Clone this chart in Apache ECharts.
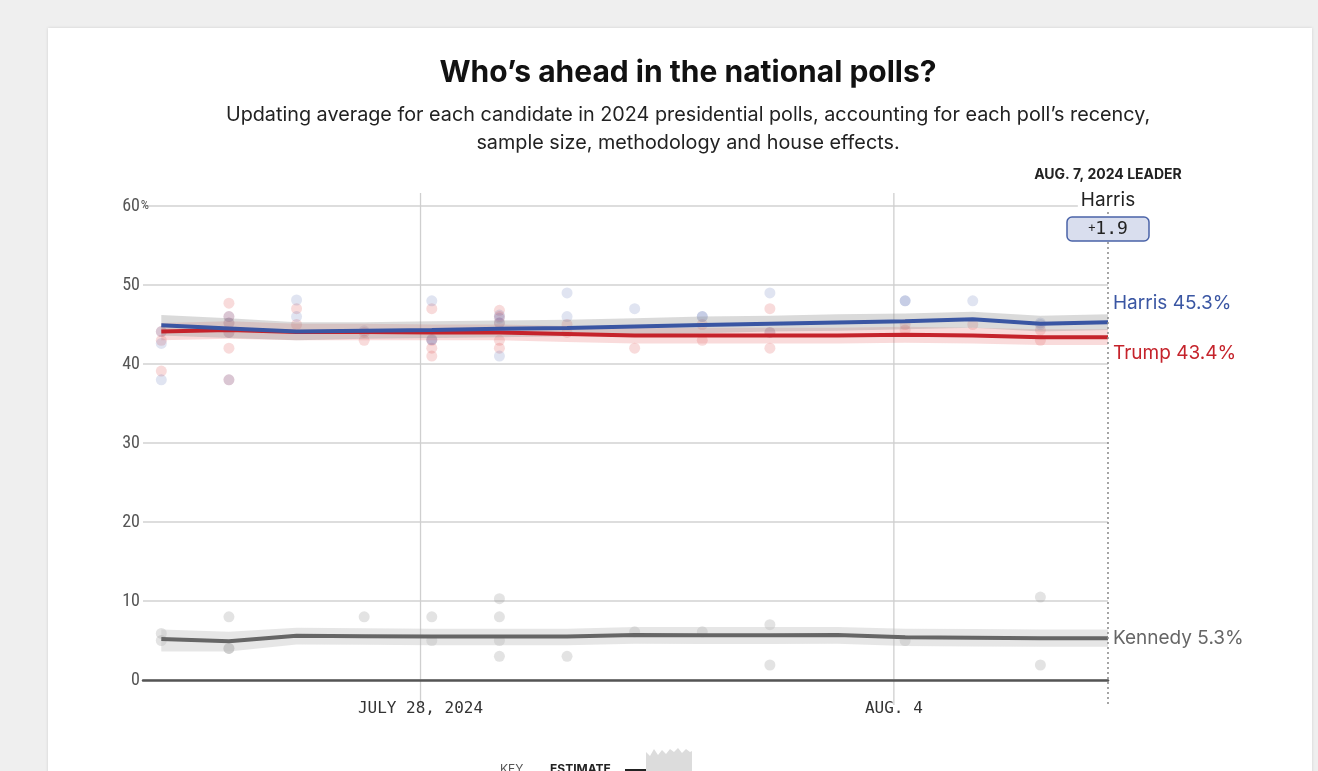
<!DOCTYPE html>
<html><head><meta charset="utf-8">
<script src="https://cdn.jsdelivr.net/npm/echarts@6/dist/echarts.min.js"></script>
<style>
html,body{margin:0;padding:0;background:#efefef;width:1318px;height:771px;overflow:hidden}
#card{position:absolute;left:48px;top:28px;width:1264px;height:760px;background:#fff;box-shadow:0 0 3px rgba(0,0,0,0.13)}
#chart{position:absolute;left:0;top:0;width:1318px;height:771px}
</style></head><body>
<div id="card"></div><div id="chart"></div>
<script>
// ---- data ----
const estDates = ['07-24','07-25','07-26','07-27','07-28','07-29','07-30','07-31','08-01','08-02','08-03','08-04','08-05','08-06','08-07'];
const harrisEst = [44.9,44.5,44.1,44.2,44.3,44.45,44.55,44.75,44.95,45.1,45.25,45.4,45.65,45.1,45.3];
const harrisHi  = [46.2,45.8,45.3,45.3,45.4,45.5,45.6,45.8,46.0,46.1,46.3,46.4,46.6,46.1,46.3];
const harrisLo  = [43.6,43.3,43.0,43.2,43.3,43.4,43.5,43.7,43.9,44.1,44.2,44.4,44.6,44.1,44.3];
const trumpEst  = [44.1,44.3,44.05,44.05,44.0,44.0,43.8,43.6,43.6,43.6,43.6,43.7,43.6,43.4,43.4];
const trumpHi   = [45.2,45.4,45.1,45.1,45.0,45.0,44.8,44.6,44.6,44.6,44.6,44.7,44.6,44.4,44.4];
const trumpLo   = [43.0,43.2,43.0,43.0,43.0,43.0,42.8,42.6,42.6,42.6,42.6,42.7,42.6,42.4,42.4];
const kennedyEst= [5.2,4.9,5.6,5.55,5.5,5.5,5.5,5.7,5.65,5.65,5.7,5.4,5.35,5.3,5.3];
const kennedyHi = [6.4,6.1,6.6,6.55,6.5,6.5,6.5,6.7,6.7,6.7,6.7,6.5,6.45,6.4,6.4];
const kennedyLo = [3.6,3.6,4.5,4.45,4.4,4.4,4.4,4.6,4.55,4.55,4.6,4.3,4.25,4.2,4.2];

const harrisPolls = [['07-24',44.1],['07-24',42.6],['07-24',38.0],
  ['07-25',46.0],['07-25',45.2],['07-25',44.0],['07-25',38.0],
  ['07-26',48.1],['07-26',46.0],['07-27',44.2],
  ['07-28',48.0],['07-28',43.1],['07-28',43.1],
  ['07-29',46.2],['07-29',45.8],['07-29',45.2],['07-29',41.0],
  ['07-30',49.0],['07-30',46.0],['07-31',47.0],
  ['08-01',46.0],['08-01',46.0],['08-02',49.0],['08-02',44.0],
  ['08-04',48.0],['08-04',48.0],['08-05',48.0],['08-06',45.2],['08-06',45.0]];
const trumpPolls = [['07-24',44.1],['07-24',43.0],['07-24',39.1],
  ['07-25',47.7],['07-25',46.0],['07-25',45.2],['07-25',44.0],['07-25',42.0],['07-25',38.0],
  ['07-26',47.0],['07-26',45.0],['07-27',44.0],['07-27',43.0],
  ['07-28',47.0],['07-28',43.0],['07-28',42.0],['07-28',41.0],
  ['07-29',46.8],['07-29',46.0],['07-29',45.2],['07-29',43.0],['07-29',42.0],
  ['07-30',45.0],['07-30',44.0],['07-31',42.0],
  ['08-01',45.0],['08-01',43.0],['08-02',47.0],['08-02',44.0],['08-02',42.0],
  ['08-04',45.0],['08-04',44.3],['08-05',45.0],['08-06',44.3],['08-06',43.0]];
const kennedyPolls = [['07-24',5.9],['07-24',5.0],['07-25',8.0],['07-25',4.0],['07-25',4.0],
  ['07-27',8.0],['07-28',8.0],['07-28',5.0],
  ['07-29',10.3],['07-29',8.0],['07-29',5.0],['07-29',3.0],['07-30',3.0],
  ['07-31',6.1],['08-01',6.1],['08-02',7.0],['08-02',1.9],['08-04',5.0],['08-06',10.5],['08-06',1.9]];

const yTicks = [0,10,20,30,40,50,60];
const refDates = ['07-28','08-04'];
const refLabels = ['JULY 28, 2024','AUG. 4'];
const leaderDateLabel = 'AUG. 7, 2024 LEADER';

// ---- helpers ----
const t = d => new Date('2024-' + d + 'T04:00').getTime();
const day = d => new Date('2024-' + d + 'T00:00').getTime();
const pts = arr => arr.map(p => [t(p[0]), p[1]]);
const line = arr => arr.map((v, i) => [t(estDates[i]), v]);
const diff = (hi, lo) => hi.map((v, i) => [t(estDates[i]), +(v - lo[i]).toFixed(2)]);

const SANS = 'Inter, "Noto Sans", sans-serif';
const MONO = '"DejaVu Sans Mono", monospace';
const COND = '"Roboto Condensed","DejaVu Sans Condensed","Liberation Sans Narrow",Roboto,sans-serif';

const lastH = harrisEst[harrisEst.length - 1], lastT = trumpEst[trumpEst.length - 1];
const margin = Math.abs(lastH - lastT).toFixed(1);
const leader = lastH >= lastT ? 'Harris' : 'Trump';

function scatter(name, data, color) {
  return { name, type: 'scatter', data: pts(data), symbolSize: 11, z: 1,
    itemStyle: { color }, silent: true };
}
function band(key, hi, lo, color) {
  return [
    { type: 'line', stack: key, data: line(lo), symbol: 'none', lineStyle: { opacity: 0 }, z: 2, silent: true },
    { type: 'line', stack: key, data: diff(hi, lo), symbol: 'none', lineStyle: { opacity: 0 },
      areaStyle: { color, opacity: 1 }, z: 2, silent: true }
  ];
}
function est(name, data, color, offset) {
  return { name, type: 'line', data: line(data), symbol: 'none', z: 4,
    lineStyle: { color, width: 4 }, silent: true,
    endLabel: { show: true, distance: 5, offset, color, fontSize: 19, fontFamily: SANS,
      formatter: p => name + ' ' + p.value[1].toFixed(1) + '%' } };
}

const chart = echarts.init(document.getElementById('chart'), null, { renderer: 'canvas' });
chart.setOption({
  animation: false,
  grid: { left: 143, right: 1318 - 1108, top: 206, bottom: 771 - 680 },
  xAxis: { type: 'time', min: new Date('2024-07-23T21:30').getTime(), max: t('08-07'),
    axisLine: { show: true, onZero: true, lineStyle: { color: '#555', width: 2.5 } },
    axisTick: { show: false }, axisLabel: { show: false }, splitLine: { show: false } },
  yAxis: { type: 'value', min: 0, max: 60, interval: 10,
    axisLine: { show: false }, axisTick: { show: false },
    splitLine: { lineStyle: { color: '#d2d2d2', width: 1.5 } },
    axisLabel: { margin: -6, color: '#555', fontSize: 18, fontFamily: COND,
      formatter: v => yTicks.includes(v) ? (v === 60 ? '{n|' + v + '}{p|%}' : '{n|' + v + '}{s|}') : '',
      rich: { n: { fontSize: 18, fontFamily: COND, color: '#555' },
              p: { fontSize: 13, fontFamily: COND, color: '#555', width: 9 },
              s: { width: 9 } } } },
  graphic: [
    { type: 'text', x: 688, y: 73, style: { text: 'Who’s ahead in the national polls?', textAlign: 'center',
      textVerticalAlign: 'middle', font: 'bold 30px ' + SANS, fill: '#111' } },
    { type: 'text', x: 688, y: 115, style: { text: 'Updating average for each candidate in 2024 presidential polls, accounting for each poll’s recency,',
      textAlign: 'center', textVerticalAlign: 'middle', font: '19.8px ' + SANS, fill: '#222' } },
    { type: 'text', x: 688, y: 143, style: { text: 'sample size, methodology and house effects.',
      textAlign: 'center', textVerticalAlign: 'middle', font: '19.8px ' + SANS, fill: '#222' } },
    { type: 'text', x: 500, y: 763, style: { text: 'KEY', font: '12px ' + SANS, fill: '#555' } },
    { type: 'text', x: 550, y: 763, style: { text: 'ESTIMATE', font: 'bold 12px ' + SANS, fill: '#222' } },
    { type: 'line', shape: { x1: 625, y1: 770, x2: 648, y2: 770 }, style: { stroke: '#222', lineWidth: 2 } },
    { type: 'polygon', shape: { points: [[646,771],[646,752],[650,756],[654,749],[658,755],[662,750],[666,754],[670,749],[674,752],[678,748],[682,753],[686,749],[690,752],[692,751],[692,771]] },
      style: { fill: '#dcdcdc' } }
  ],
  series: [
    { type: 'custom', z: 0, clip: false, silent: true,
      data: refDates.map(d => [day(d), 0]),
      renderItem: (params, api) => {
        const x = api.coord([api.value(0), 0])[0];
        const cs = params.coordSys;
        return { type: 'group', children: [
          { type: 'line', shape: { x1: x, y1: cs.y - 13, x2: x, y2: cs.y + cs.height + 25 },
            style: { stroke: '#cfcfcf', lineWidth: 1.3 } },
          { type: 'text', x: x, y: cs.y + cs.height + 29,
            style: { text: refLabels[params.dataIndex], textAlign: 'center', textVerticalAlign: 'middle',
              font: '16px ' + MONO, fill: '#333' } } ] };
      } },
    scatter('Kennedy polls', kennedyPolls, 'rgba(140,140,140,0.3)'),
    scatter('Trump polls', trumpPolls, 'rgba(215,50,50,0.22)'),
    scatter('Harris polls', harrisPolls, 'rgba(60,90,170,0.2)'),
    ...band('k', kennedyHi, kennedyLo, 'rgba(190,190,190,0.38)'),
    ...band('t', trumpHi, trumpLo, 'rgba(230,110,110,0.25)'),
    ...band('h', harrisHi, harrisLo, 'rgba(150,150,150,0.35)'),
    est('Kennedy', kennedyEst, '#666666', [0, 0]),
    est('Trump', trumpEst, '#c5232b', [0, 16]),
    est('Harris', harrisEst, '#3a56a3', [0, -19]),
    { type: 'custom', z: 6, clip: false, silent: true,
      data: [[t(estDates[estDates.length - 1]), 0]],
      renderItem: (params, api) => {
        const x = api.coord([api.value(0), 0])[0];
        const cs = params.coordSys;
        return { type: 'group', children: [
          { type: 'line', shape: { x1: x, y1: cs.y + 6, x2: x, y2: cs.y + cs.height + 24 },
            style: { stroke: '#888', lineWidth: 1.5, lineDash: [2, 3] } },
          { type: 'text', x: x, y: cs.y - 31, style: { text: leaderDateLabel, textAlign: 'center',
            textVerticalAlign: 'middle', font: 'bold 14px ' + SANS, fill: '#222' } },
          { type: 'text', x: x, y: cs.y - 6, style: { text: leader, textAlign: 'center',
            textVerticalAlign: 'middle', font: '19px ' + SANS, fill: '#222', backgroundColor: '#fff', padding: [0, 3] } },
          { type: 'rect', shape: { x: x - 41, y: cs.y + 11, width: 82, height: 24, r: 5 },
            style: { fill: '#d9deee', stroke: '#4a63a8', lineWidth: 1.5 } },
          { type: 'text', x: x, y: cs.y + 23, style: { text: '{p|+}' + margin, textAlign: 'center',
            textVerticalAlign: 'middle', font: '18px ' + MONO, fill: '#222',
            rich: { p: { fontSize: 12, fontFamily: MONO, fill: '#222', color: '#222' } } } }
        ] };
      } }
  ]
});
</script></body></html>
